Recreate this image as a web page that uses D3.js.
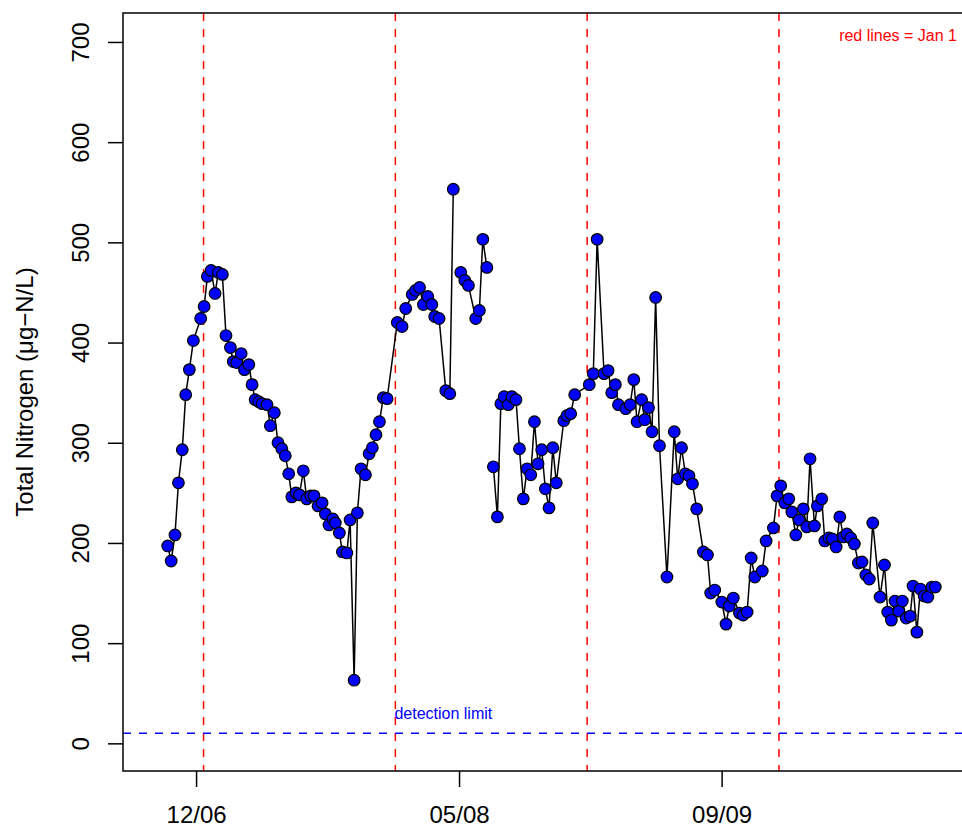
<!DOCTYPE html>
<html>
<head>
<meta charset="utf-8">
<script src="https://cdn.jsdelivr.net/npm/d3@7"></script>
<style>
  body { margin: 0; background: #fff; }
  text { font-family: "Liberation Sans", Arial, Helvetica, sans-serif; }
</style>
</head>
<body>
<script>
// sampling times as decimal years, null value = break in the line
const years = [
  2006.813, 2006.831, 2006.851, 2006.869, 2006.889, 2006.907, 2006.926, 2006.947, 2006.985, 2007.003,
  2007.020, 2007.039, 2007.060, 2007.077, 2007.098, 2007.117, 2007.140, 2007.155, 2007.173, 2007.196,
  2007.213, 2007.236, 2007.253, 2007.269, 2007.288, 2007.305, 2007.331, 2007.348, 2007.369, 2007.388,
  2007.408, 2007.426, 2007.444, 2007.460, 2007.482, 2007.500, 2007.520, 2007.538, 2007.559, 2007.576,
  2007.597, 2007.618, 2007.635, 2007.654, 2007.674, 2007.687, 2007.708, 2007.724, 2007.747, 2007.764,
  2007.785, 2007.802, 2007.821, 2007.844, 2007.863, 2007.880, 2007.899, 2007.917, 2007.937, 2007.957,
  2008.010, 2008.035, 2008.054, 2008.088, 2008.105, 2008.126, 2008.146, 2008.169, 2008.190, 2008.205,
  2008.228, 2008.263, 2008.284, 2008.302, 2008.320, 2008.341, 2008.362, 2008.381, 2008.419, 2008.438,
  2008.456, 2008.477, 2008.490, 2008.511, 2008.532, 2008.550, 2008.567, 2008.589, 2008.608, 2008.629,
  2008.647, 2008.667, 2008.687, 2008.706, 2008.725, 2008.744, 2008.763, 2008.782, 2008.801, 2008.821,
  2008.839, 2008.878, 2008.894, 2008.914, 2008.935, 2009.011, 2009.032, 2009.052, 2009.088, 2009.109,
  2009.128, 2009.147, 2009.163, 2009.201, 2009.224, 2009.243, 2009.260, 2009.284, 2009.300, 2009.320,
  2009.338, 2009.357, 2009.377, 2009.416, 2009.454, 2009.472, 2009.492, 2009.512, 2009.531, 2009.549,
  2009.571, 2009.606, 2009.627, 2009.644, 2009.665, 2009.702, 2009.724, 2009.741, 2009.762, 2009.794,
  2009.813, 2009.834, 2009.855, 2009.874, 2009.913, 2009.933, 2009.971, 2009.990, 2010.009, 2010.030,
  2010.051, 2010.067, 2010.088, 2010.105, 2010.127, 2010.145, 2010.162, 2010.185, 2010.200, 2010.223,
  2010.239, 2010.260, 2010.278, 2010.298, 2010.317, 2010.336, 2010.354, 2010.374, 2010.393, 2010.414,
  2010.433, 2010.453, 2010.471, 2010.489, 2010.527, 2010.550, 2010.567, 2010.586, 2010.605, 2010.625,
  2010.643, 2010.663, 2010.684, 2010.699, 2010.719, 2010.737, 2010.757, 2010.776, 2010.797, 2010.815
];
const tn = [
  197, 182, 208, 260, 293, 348, 373, 402, 424, 436,
  466, 472, 449, 470, 468, 407, 395, 381, 380, 389,
  373, 378, 358, 343, 341, 339, 338, 317, 330, 300,
  294, 287, 269, 246, 250, 248, 272, 244, 247, 247,
  237, 240, 229, 218, 224, 220, 210, 191, 190, 223,
  63, 230, 274, 268, 289, 295, 308, 321, 345, 344,
  420, 416, 434, 448, 452, 455, 438, 446, 438, 426,
  424, 352, 349, 553, null, 470, 462, 457, 424, 432,
  503, 475, null, 276, 226, 339, 346, 338, 346, 343,
  294, 244, 274, 268, 321, 279, 293, 254, 235, 295,
  260, 322, 327, 329, 348, 358, 369, 503, 369, 372,
  350, 358, 338, 334, 338, 363, 321, 343, 323, 335,
  311, 445, 297, 166, 311, 264, 295, 269, 267, 259,
  234, 191, 188, 150, 153, 141, 119, 137, 145, 130,
  128, 131, 185, 166, 172, 202, 215, 247, 257, 240,
  244, 231, 208, 223, 234, 216, 284, 217, 237, 244,
  202, 205, 204, 196, 226, 206, 209, 205, 199, 180,
  181, 168, 164, 220, 146, 178, 131, 123, 142, 132,
  142, 125, 127, 157, 111, 154, 147, 146, 156, 156
];

const janFirst = [2007, 2008, 2009, 2010];
const xTickYears = [2006.961, 2008.332, 2009.701];
const xTickLabels = ["12/06", "05/08", "09/09"];
const yTicks = [0, 100, 200, 300, 400, 500, 600, 700];
const detectionLimit = 10;

const data = years.map((t, i) => ({ t: t, v: tn[i] }));

const W = 962, H = 829;
const margin = { top: 13, right: -13, bottom: 58, left: 123 };
const width = W - margin.left - margin.right;
const height = H - margin.top - margin.bottom;

const x = d3.scaleLinear()
    .domain([2006.580, 2011.022])
    .range([0, width]);

const y = d3.scaleLinear()
    .domain([-27.6, 728.9])
    .range([height, 0]);

const svg = d3.select("body").append("svg")
    .attr("width", W)
    .attr("height", H)
  .append("g")
    .attr("transform", "translate(" + margin.left + "," + margin.top + ")");

// Jan 1 lines
svg.selectAll(".jan")
    .data(janFirst)
  .enter().append("line")
    .attr("class", "jan")
    .attr("x1", d => x(d)).attr("x2", d => x(d))
    .attr("y1", 0).attr("y2", height)
    .attr("stroke", "#ff0000")
    .attr("stroke-width", 1.5)
    .attr("stroke-dasharray", "8,8");

// detection limit
svg.append("line")
    .attr("x1", 0).attr("x2", width)
    .attr("y1", y(detectionLimit)).attr("y2", y(detectionLimit))
    .attr("stroke", "#0000ff")
    .attr("stroke-width", 1.5)
    .attr("stroke-dasharray", "8,8");

svg.append("text")
    .attr("x", x(2007.995))
    .attr("y", y(detectionLimit) - 14)
    .attr("fill", "#0000ff")
    .style("font-size", "16px")
    .text("detection limit");

svg.append("text")
    .attr("x", 834)
    .attr("y", 28)
    .attr("fill", "#ff0000")
    .style("font-size", "16px")
    .style("text-anchor", "end")
    .text("red lines = Jan 1");

const line = d3.line()
    .defined(d => d.v != null)
    .x(d => x(d.t))
    .y(d => y(d.v));

svg.append("path")
    .datum(data)
    .attr("fill", "none")
    .attr("stroke", "#000")
    .attr("stroke-width", 1.5)
    .attr("d", line);

svg.selectAll(".dot")
    .data(data.filter(d => d.v != null))
  .enter().append("circle")
    .attr("class", "dot")
    .attr("cx", d => x(d.t))
    .attr("cy", d => y(d.v))
    .attr("r", 5.8)
    .attr("fill", "#0000ff")
    .attr("stroke", "#000")
    .attr("stroke-width", 1.2);

// box
svg.append("rect")
    .attr("width", width)
    .attr("height", height)
    .attr("fill", "none")
    .attr("stroke", "#000")
    .attr("stroke-width", 1.5);

const xAxis = d3.axisBottom(x)
    .tickValues(xTickYears)
    .tickFormat((d, i) => xTickLabels[i])
    .tickSize(16)
    .tickPadding(19);

const gx = svg.append("g")
    .attr("transform", "translate(0," + height + ")")
    .call(xAxis);
gx.select(".domain").remove();

const yAxis = d3.axisLeft(y)
    .tickValues(yTicks)
    .tickSize(15);

const gy = svg.append("g").call(yAxis);
gy.select(".domain").remove();
gy.selectAll("text")
    .attr("x", 0)
    .attr("y", 0)
    .attr("dy", 0)
    .attr("transform", "translate(-34,0) rotate(-90)")
    .style("text-anchor", "middle");

svg.selectAll(".tick line")
    .attr("stroke", "#000")
    .attr("stroke-width", 1.5);
svg.selectAll(".tick text")
    .attr("fill", "#000")
    .style("font-size", "24px")
    .style("font-family", "'Liberation Sans', Arial, Helvetica, sans-serif");

svg.append("text")
    .attr("transform", "rotate(-90)")
    .attr("x", -height / 2)
    .attr("y", -90)
    .style("text-anchor", "middle")
    .style("font-size", "24px")
    .text("Total Nitrogen (\u03bcg\u2212N/L)");
</script>
</body>
</html>
